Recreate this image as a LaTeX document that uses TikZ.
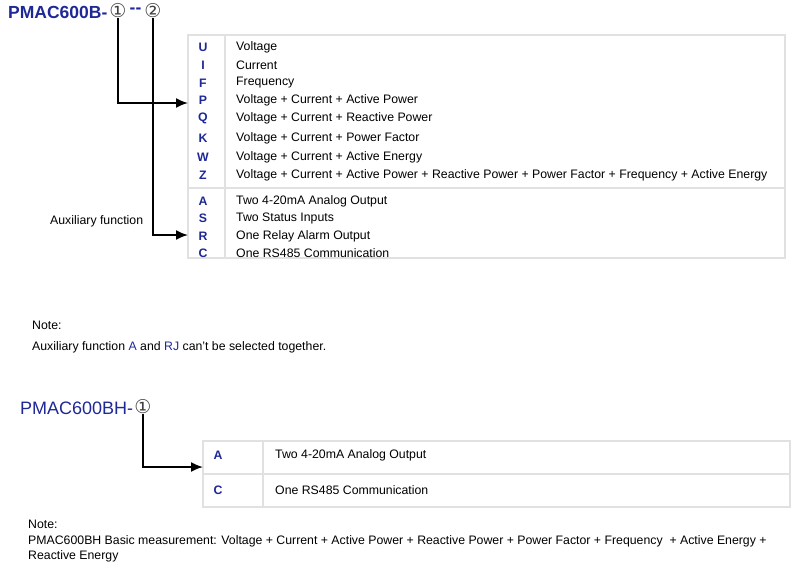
\documentclass[tikz,border=0pt]{standalone}
\usepackage{fontspec}
\setmainfont{Liberation Sans}
\newfontfamily\symfont{DejaVu Sans}
\usetikzlibrary{arrows.meta}
\definecolor{codeblue}{RGB}{30,40,150}
\definecolor{gridgray}{RGB}{225,225,225}
\begin{document}
\begin{tikzpicture}[x=1pt,y=-1pt,
    every node/.style={font={\fontsize{12.3pt}{14}\selectfont},inner sep=0pt},
    txt/.style={anchor=west},
    code/.style={text=codeblue,font={\fontsize{12.3pt}{14}\selectfont\bfseries}},
    title/.style={anchor=west,text=codeblue,font={\fontsize{17.5pt}{19}\selectfont\bfseries}},
    circ/.style={text=black!75,font={\symfont\fontsize{19pt}{21}\selectfont}},
    grid/.style={draw=gridgray,line width=1.2pt},
    lead/.style={line width=1.8pt,-{Latex[length=12pt,width=10pt]}}
    ]
  \useasboundingbox (0,0) rectangle (795,573);

  % first model
  \node (t1) [title] at (8,12) {PMAC600B-};
  \node (c1) [circ] at (118,11) {①};
  \node (d1) [text=codeblue,font={\fontsize{17.5pt}{19}\selectfont\bfseries}] at (135.5,11) {{-}{-}};
  \node (c2) [circ] at (153,11) {②};

  \draw[grid] (188,35) rectangle (785,258);
  \draw[grid] (225,35) -- (225,258);
  \draw[grid] (188,188) -- (785,188);

  \coordinate (in1) at (188,103);
  \coordinate (in2) at (188,235);
  \draw[lead] (c1.south) |- (in1);
  \draw[lead] (c2.south) |- (in2);

  \foreach \y/\k/\t in {47/U/Voltage, 65/I/Current, 83/F/Frequency,
      100/P/Voltage + Current + Active Power,
      118/Q/Voltage + Current + Reactive Power,
      138/K/Voltage + Current + Power Factor,
      157/W/Voltage + Current + Active Energy,
      175/Z/Voltage + Current + Active Power + Reactive Power + Power Factor + Frequency + Active Energy,
      201/A/Two 4-20mA Analog Output,
      218/S/Two Status Inputs,
      236/R/One Relay Alarm Output}{
    \node (k\k) [code] at (203,\y) {\k};
    \node (r\k) [txt] at (236,\y) {\t};
  }
  \begin{scope}
    \clip (188,240) rectangle (785,258);
    \node (kC) [code] at (203,253) {C};
    \node (rC) [txt] at (236,253) {One RS485 Communication};
  \end{scope}

  \node (aux) [txt] at (50,221) {Auxiliary function};

  \node (n1) [txt] at (32,325) {Note:};
  \node (n1t) [txt] at (32,347) {Auxiliary function \textcolor{codeblue}{A} and \textcolor{codeblue}{RJ} can't be selected together.};

  % second model
  \node (t2) [title,font={\fontsize{18pt}{20}\selectfont}] at (20,408) {PMAC600BH-};
  \node (c3) [circ] at (143,407) {①};

  \draw[grid] (203,441) rectangle (790,507);
  \draw[grid] (263,441) -- (263,507);
  \draw[grid] (203,474) -- (790,474);
  \coordinate (in3) at (203,467);
  \draw[lead] (c3.south) |- (in3);

  \node (kA2) [code] at (218,455) {A};
  \node (rA2) [txt] at (275,455) {Two 4-20mA Analog Output};
  \node (kC2) [code] at (218,490) {C};
  \node (rC2) [txt] at (275,490) {One RS485 Communication};

  \node (n2) [txt] at (28,524) {Note:};
  \node (n2t) [txt] at (28,541) {PMAC600BH Basic measurement: Voltage + Current + Active Power + Reactive Power + Power Factor + Frequency \ + Active Energy +};
  \node (n2u) [txt] at (28,556) {Reactive Energy};
\end{tikzpicture}
\end{document}
